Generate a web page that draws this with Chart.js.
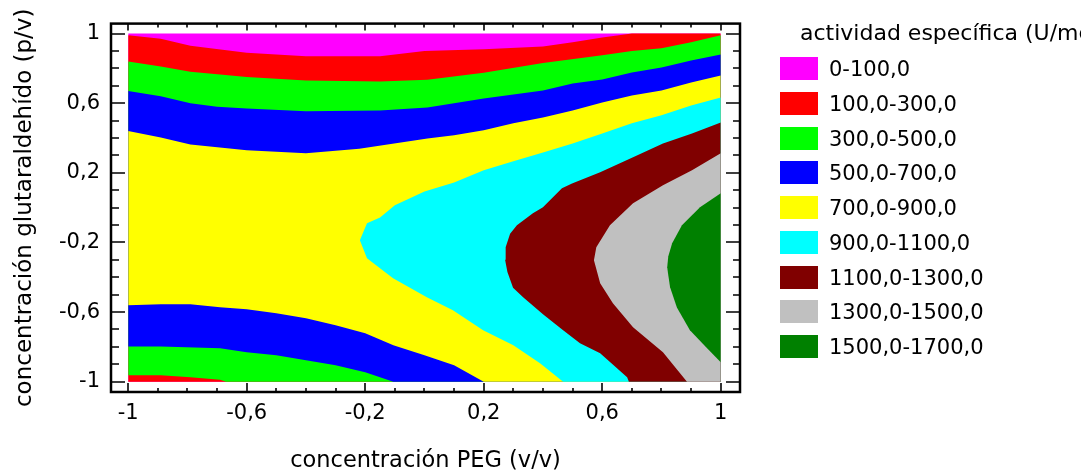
<!DOCTYPE html>
<html>
<head>
<meta charset="utf-8">
<script src="https://cdn.jsdelivr.net/npm/chart.js@4.4.1/dist/chart.umd.min.js"></script>
<style>
html, body { margin: 0; padding: 0; background: #fff; }
canvas { display: block; }
</style>
</head>
<body>
<canvas id="chart" width="1081" height="475"></canvas>
<script>
// Contour levels (legend) and their fill colours
const levelLabels = ['0-100,0', '100,0-300,0', '300,0-500,0', '500,0-700,0', '700,0-900,0',
    '900,0-1100,0', '1100,0-1300,0', '1300,0-1500,0', '1500,0-1700,0'];
const levelColors = ['#ff00ff', '#ff0000', '#00ff00', '#0000ff', '#ffff00',
    '#00ffff', '#800000', '#c0c0c0', '#008000'];

// Zone where activity is above each level: top edge and bottom edge as [PEG, glutaraldehido] points
const above0Top = [[-1, 1], [1, 1]];
const above0Bottom = [[-1, -1], [1, -1]];
const above100Top = [[-1, 0.99], [-0.89, 0.97], [-0.79, 0.93], [-0.6, 0.89], [-0.4, 0.87], [-0.15, 0.87],
    [0, 0.9], [0.2, 0.91], [0.4, 0.925], [0.5, 0.95], [0.6, 0.977], [0.7, 1], [1, 1]];
const above100Bottom = [[-1, -1], [1, -1]];
const above300Top = [[-1, 0.84], [-0.89, 0.81], [-0.79, 0.78], [-0.69, 0.765], [-0.6, 0.75], [-0.4, 0.73],
    [-0.15, 0.725], [0.01, 0.735], [0.2, 0.775], [0.4, 0.83], [0.6, 0.875], [0.7, 0.9], [0.8, 0.915],
    [0.9, 0.95], [1, 0.99]];
const above300Bottom = [[-1, -0.963], [-0.89, -0.963], [-0.79, -0.974], [-0.69, -0.988], [-0.67, -1], [1, -1]];
const above500Top = [[-1, 0.67], [-0.89, 0.64], [-0.79, 0.6], [-0.7, 0.58], [-0.6, 0.57], [-0.4, 0.553],
    [-0.15, 0.558], [0.01, 0.575], [0.2, 0.627], [0.4, 0.673], [0.5, 0.713], [0.6, 0.736], [0.7, 0.776],
    [0.8, 0.805], [0.9, 0.845], [1, 0.88]];
const above500Bottom = [[-1, -0.797], [-0.89, -0.797], [-0.69, -0.808], [-0.6, -0.831], [-0.5, -0.848],
    [-0.4, -0.877], [-0.3, -0.905], [-0.2, -0.945], [-0.105, -1], [1, -1]];
const above700Top = [[-1, 0.44], [-0.89, 0.403], [-0.79, 0.363], [-0.6, 0.33], [-0.4, 0.312], [-0.22, 0.338],
    [0.01, 0.397], [0.1, 0.415], [0.2, 0.444], [0.3, 0.484], [0.4, 0.518], [0.5, 0.558], [0.6, 0.604],
    [0.7, 0.644], [0.8, 0.673], [0.9, 0.719], [1, 0.759]];
const above700Bottom = [[-1, -0.561], [-0.89, -0.555], [-0.79, -0.555], [-0.69, -0.572], [-0.6, -0.584],
    [-0.5, -0.607], [-0.4, -0.635], [-0.3, -0.675], [-0.2, -0.722], [-0.105, -0.791], [0, -0.848],
    [0.1, -0.905], [0.2, -1], [1, -1]];
const above900Top = [[-0.218, -0.188], [-0.194, -0.09], [-0.15, -0.056], [-0.1, 0.013], [0, 0.092],
    [0.1, 0.145], [0.2, 0.214], [0.3, 0.266], [0.4, 0.317], [0.5, 0.369], [0.6, 0.426], [0.7, 0.484],
    [0.8, 0.53], [0.9, 0.587], [1, 0.632]];
const above900Bottom = [[-0.218, -0.188], [-0.194, -0.291], [-0.106, -0.406], [0.008, -0.515], [0.096, -0.59],
    [0.198, -0.704], [0.3, -0.791], [0.39, -0.894], [0.468, -1], [1, -1]];
const above1100Top = [[0.272, -0.3], [0.274, -0.228], [0.289, -0.15], [0.312, -0.101], [0.366, -0.033],
    [0.4, 0.002], [0.464, 0.111], [0.498, 0.139], [0.593, 0.203], [0.704, 0.289], [0.805, 0.369],
    [0.903, 0.426], [1, 0.489]];
const above1100Bottom = [[0.272, -0.3], [0.28, -0.37], [0.299, -0.46], [0.333, -0.515], [0.4, -0.612],
    [0.468, -0.704], [0.525, -0.779], [0.593, -0.837], [0.684, -0.974], [0.69, -1], [1, -1]];
const above1300Top = [[0.572, -0.302], [0.58, -0.228], [0.626, -0.101], [0.704, 0.025], [0.805, 0.128],
    [0.903, 0.214], [1, 0.312]];
const above1300Bottom = [[0.572, -0.302], [0.593, -0.435], [0.636, -0.549], [0.704, -0.687], [0.805, -0.831],
    [0.886, -1], [1, -1]];
const above1500Top = [[0.819, -0.343], [0.823, -0.28], [0.836, -0.205], [0.869, -0.101], [0.93, 0.002], [1, 0.082]];
const above1500Bottom = [[0.819, -0.343], [0.829, -0.458], [0.852, -0.573], [0.896, -0.704], [0.954, -0.808],
    [1, -0.888]];

// Axis ticks
const majorTicks = [-1, -0.6, -0.2, 0.2, 0.6, 1];
const tickLabels = ['-1', '-0,6', '-0,2', '0,2', '0,6', '1'];
const minorTicks = [-1, -0.9, -0.8, -0.7, -0.6, -0.5, -0.4, -0.3, -0.2, -0.1, 0,
    0.1, 0.2, 0.3, 0.4, 0.5, 0.6, 0.7, 0.8, 0.9, 1];

const legendTitle = 'actividad específica (U/mg)';
const FONT = 'DejaVu Sans';
Chart.defaults.font.family = FONT;
Chart.defaults.color = '#000';

const zones = [
    [above0Top, above0Bottom], [above100Top, above100Bottom], [above300Top, above300Bottom],
    [above500Top, above500Bottom], [above700Top, above700Bottom], [above900Top, above900Bottom],
    [above1100Top, above1100Bottom], [above1300Top, above1300Bottom], [above1500Top, above1500Bottom]
];

// each zone = top line filled down to its bottom line; higher levels painted on top
const datasets = [];
zones.forEach(([top, bottom], k) => {
    const common = { borderColor: 'rgba(0,0,0,0)', borderWidth: 0, pointRadius: 0, tension: 0, order: 100 - k };
    datasets.push({ ...common, label: levelLabels[k], data: top.map(([x, y]) => ({ x, y })),
        fill: '+1', backgroundColor: levelColors[k] });
    datasets.push({ ...common, label: '', data: bottom.map(([x, y]) => ({ x, y })), fill: false });
});

// frame with inward ticks on all four sides
const framePlugin = {
    id: 'frame',
    afterDatasetsDraw(chart) {
        const { ctx, chartArea: a, scales: { x, y } } = chart;
        ctx.save();
        ctx.strokeStyle = '#000';
        ctx.lineWidth = 1.6;
        ctx.beginPath();
        minorTicks.forEach(v => {
            const major = majorTicks.includes(v);
            const px = Math.round(x.getPixelForValue(v));
            ctx.moveTo(px, a.bottom); ctx.lineTo(px, a.bottom - (major ? 9 : 4));
            ctx.moveTo(px, a.top); ctx.lineTo(px, a.top + (major ? 7 : 4));
            const py = Math.round(y.getPixelForValue(v));
            ctx.moveTo(a.left, py); ctx.lineTo(a.left + (major ? 14 : 8), py);
            ctx.moveTo(a.right, py); ctx.lineTo(a.right - (major ? 14 : 7), py);
        });
        ctx.stroke();
        ctx.lineWidth = 2.5;
        ctx.strokeRect(a.left, a.top, a.right - a.left, a.bottom - a.top);
        ctx.restore();
    }
};

const legendPlugin = {
    id: 'levelLegend',
    afterDraw(chart) {
        const ctx = chart.ctx;
        ctx.save();
        ctx.textBaseline = 'alphabetic';
        ctx.fillStyle = '#000';
        ctx.font = '22px "' + FONT + '"';
        ctx.fillText(legendTitle, 800, 40);
        ctx.font = '21px "' + FONT + '"';
        levelLabels.forEach((label, i) => {
            const top = Math.round(57 + i * 34.75);
            ctx.fillStyle = levelColors[i];
            ctx.fillRect(780, top, 38, 23);
            ctx.fillStyle = '#000';
            ctx.fillText(label, 829, top + 19);
        });
        ctx.restore();
    }
};

new Chart(document.getElementById('chart'), {
    type: 'line',
    data: { datasets },
    options: {
        responsive: false,
        animation: false,
        events: [],
        layout: { padding: { left: 0, top: 23, right: 341, bottom: 0 } },
        plugins: { legend: { display: false }, tooltip: { enabled: false } },
        scales: {
            x: {
                type: 'linear', min: -1.058, max: 1.065,
                grid: { display: false, drawTicks: false },
                border: { display: false },
                afterBuildTicks: s => { s.ticks = majorTicks.map(v => ({ value: v })); },
                afterFit: s => { s.height = 83; },
                ticks: { autoSkip: false, maxRotation: 0, padding: 9, font: { size: 21 },
                    callback: (v, i) => tickLabels[i] },
                title: { display: true, text: 'concentración PEG (v/v)', font: { size: 22.5 },
                    padding: { top: 0, bottom: 0 } }
            },
            y: {
                type: 'linear', min: -1.059, max: 1.057,
                grid: { display: false, drawTicks: false },
                border: { display: false },
                afterBuildTicks: s => { s.ticks = majorTicks.map(v => ({ value: v })); },
                afterFit: s => { s.width = 111; },
                ticks: { autoSkip: false, padding: 11, font: { size: 21 },
                    callback: (v, i) => tickLabels[i] },
                title: { display: true, text: 'concentración glutaraldehído (p/v)', font: { size: 23 },
                    padding: { top: 11, bottom: 0 } }
            }
        }
    },
    plugins: [framePlugin, legendPlugin]
});
</script>
</body>
</html>
